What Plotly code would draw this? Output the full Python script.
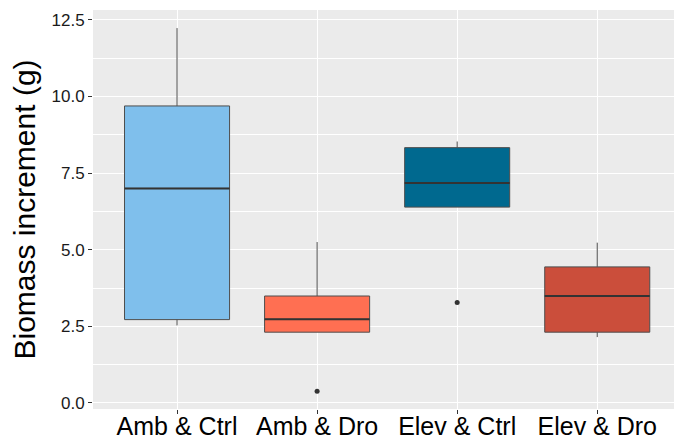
import plotly.graph_objects as go

categories = ["Amb & Ctrl", "Amb & Dro", "Elev & Ctrl", "Elev & Dro"]
q1 = [2.72, 2.31, 6.39, 2.31]
median = [7.00, 2.73, 7.18, 3.49]
q3 = [9.69, 3.49, 8.33, 4.44]
lower_whisker = [2.53, 2.31, 6.39, 2.15]
upper_whisker = [12.23, 5.25, 8.53, 5.23]
outlier_group = [1, 2]
outlier_value = [0.38, 3.28]
fill_colors = ["#7FBFEC", "#FF6F52", "#00698F", "#CB4E3B"]
y_ticks = [0.0, 2.5, 5.0, 7.5, 10.0, 12.5]

fig = go.Figure()
box_w = 0.75
for i, cat in enumerate(categories):
    fig.add_trace(go.Box(
        x=[i], q1=[q1[i]], median=[median[i]], q3=[q3[i]],
        lowerfence=[lower_whisker[i]], upperfence=[upper_whisker[i]],
        width=box_w, whiskerwidth=0, fillcolor=fill_colors[i],
        line=dict(color="#4D4D4D", width=1), boxpoints=False,
        showlegend=False, name=cat))
    fig.add_trace(go.Scatter(
        x=[i - box_w / 2, i + box_w / 2], y=[median[i], median[i]],
        mode="lines", line=dict(color="#333333", width=2),
        showlegend=False, hoverinfo="skip"))

fig.add_trace(go.Scatter(
    x=outlier_group, y=outlier_value, mode="markers",
    marker=dict(color="#333333", size=5), showlegend=False))

fig.update_layout(
    width=674, height=440,
    margin=dict(l=93, r=0, t=10, b=31),
    paper_bgcolor="white", plot_bgcolor="#EBEBEB",
    font=dict(family="Liberation Sans, Arial, sans-serif", color="black"),
    boxmode="overlay",
)
fig.update_xaxes(
    range=[-0.6, 3.548], tickvals=list(range(len(categories))),
    ticktext=categories, tickfont=dict(size=25, color="black"),
    showgrid=True, gridcolor="white", gridwidth=1.1,
    ticks="outside", ticklen=4, tickcolor="#333333", zeroline=False,
    showline=False, automargin=False, ticklabelstandoff=-9,
)
fig.update_yaxes(
    range=[-0.196, 12.82], tickvals=y_ticks,
    ticktext=[f"{v:.1f}" for v in y_ticks],
    tickfont=dict(size=17, color="#1a1a1a"),
    showgrid=True, gridcolor="white", gridwidth=1.1,
    minor=dict(tickvals=[1.25, 3.75, 6.25, 8.75, 11.25], showgrid=True,
               gridcolor="white", gridwidth=0.6, ticks=""),
    ticks="outside", ticklen=4, tickcolor="#333333", zeroline=False,
    automargin=False,
    title=dict(text="Biomass increment (g)", font=dict(size=30, color="black"), standoff=7),
)

fig.write_html("out.html", config={"displayModeBar": False})
with open("out.html", encoding="utf-8") as f:
    html = f.read()
html = html.replace("<body>", '<body style="margin:0;padding:0;overflow:hidden">', 1)
with open("out.html", "w", encoding="utf-8") as f:
    f.write(html)
